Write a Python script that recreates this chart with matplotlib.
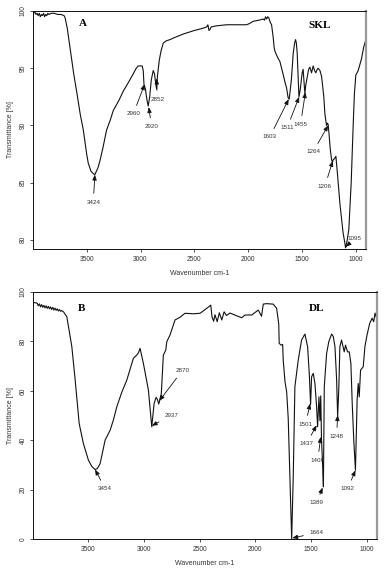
import matplotlib
matplotlib.use("Agg")
import matplotlib.pyplot as plt

plt.rcParams['font.family'] = ['Liberation Sans', 'DejaVu Sans']

# ---------------- Panel A : SKL ----------------
skl_wn = [3995, 3980, 3970, 3960, 3950, 3940, 3930, 3920, 3910, 3900, 3890, 3880, 3870, 3860,
          3850, 3830, 3800, 3770, 3740, 3710, 3700, 3680, 3650, 3620, 3590, 3560, 3531, 3500,
          3485, 3460, 3440, 3424, 3410, 3395, 3377, 3350, 3315, 3280, 3253, 3200, 3160, 3110,
          3068, 3040, 3021, 3000, 2985, 2975, 2968, 2955, 2940, 2929, 2915, 2900, 2882, 2870,
          2860, 2851, 2843, 2826, 2810, 2789, 2760, 2727, 2680, 2600, 2500, 2420, 2387, 2375,
          2365, 2355, 2345, 2300, 2200, 2140, 2016, 1990, 1955, 1900, 1862, 1850, 1840, 1830,
          1820, 1810, 1795, 1784, 1770, 1760, 1753, 1740, 1720, 1707, 1680, 1660, 1645, 1630,
          1620, 1600, 1583, 1570, 1561, 1554, 1546, 1538, 1530, 1520, 1512, 1500, 1491, 1483,
          1475, 1467, 1459, 1450, 1440, 1428, 1413, 1398, 1385, 1373, 1360, 1352, 1335, 1320,
          1299, 1289, 1274, 1266, 1259, 1250, 1240, 1227, 1218, 1212, 1200, 1187, 1170, 1150,
          1120, 1105, 1097, 1085, 1067, 1045, 1027, 1015, 1002, 980, 950, 930, 912]
skl_t = [99.8, 99.9, 99.7, 99.8, 99.6, 99.8, 99.5, 99.7, 99.6, 99.8, 99.5, 99.7, 99.6, 99.8,
         99.7, 99.8, 99.8, 99.7, 99.7, 99.6, 99.4, 98.5, 96.5, 94.5, 92.8, 91.0, 89.6, 87.5,
         86.7, 86.0, 85.8, 85.7, 86.0, 86.3, 86.9, 88.0, 89.6, 90.5, 91.3, 92.2, 93.0, 93.8,
         94.5, 95.0, 95.2, 95.2, 95.2, 94.8, 93.6, 93.2, 92.2, 91.7, 92.5, 94.0, 94.8, 94.5,
         93.7, 93.2, 94.3, 95.7, 96.5, 97.2, 97.4, 97.5, 97.7, 98.0, 98.3, 98.5, 98.6, 98.8,
         98.3, 98.4, 98.6, 98.7, 98.8, 98.8, 98.8, 98.9, 99.1, 99.2, 99.3, 99.2, 99.5, 99.3,
         99.5, 99.4, 99.0, 98.8, 97.8, 96.8, 96.5, 96.2, 95.8, 95.6, 94.6, 93.8, 93.3, 92.4,
         92.3, 94.0, 96.3, 97.2, 97.5, 97.2, 96.3, 94.5, 92.5, 93.0, 93.6, 94.6, 94.9, 93.8,
         92.8, 93.5, 93.9, 94.3, 94.9, 95.1, 94.6, 95.2, 94.8, 94.6, 94.9, 95.0, 94.8, 94.3,
         92.5, 91.0, 90.0, 90.2, 90.1, 89.2, 88.0, 87.0, 86.8, 87.0, 87.1, 87.3, 85.5, 83.2,
         80.6, 79.8, 79.3, 79.8, 80.9, 85.0, 89.9, 92.8, 94.4, 94.8, 95.8, 96.8, 97.4]

# ---------------- Panel B : DL ----------------
dl_wn = [3995, 3975, 3960, 3950, 3940, 3930, 3920, 3910, 3900, 3890, 3880, 3870, 3860, 3850,
         3840, 3830, 3820, 3810, 3800, 3790, 3780, 3770, 3760, 3750, 3740, 3724, 3694, 3649,
         3619, 3583, 3545, 3500, 3470, 3440, 3420, 3395, 3350, 3305, 3276, 3245, 3200, 3155,
         3096, 3066, 3050, 3036, 3006, 2961, 2931, 2910, 2892, 2880, 2868, 2845, 2827, 2805,
         2796, 2767, 2722, 2677, 2632, 2557, 2497, 2437, 2401, 2390, 2375, 2363, 2343, 2324,
         2302, 2281, 2260, 2228, 2175, 2123, 2093, 2033, 1974, 1959, 1945, 1929, 1900, 1840,
         1809, 1790, 1786, 1768, 1755, 1750, 1734, 1719, 1705, 1690, 1674, 1660, 1645, 1630,
         1615, 1585, 1555, 1531, 1516, 1504, 1495, 1480, 1465, 1450, 1441, 1429, 1420, 1413,
         1406, 1396, 1389, 1381, 1360, 1340, 1315, 1300, 1285, 1270, 1261, 1250, 1241, 1226,
         1213, 1202, 1190, 1172, 1157, 1142, 1130, 1116, 1101, 1086, 1076, 1067, 1055, 1031,
         1016, 997, 973, 951, 937, 925, 912]
dl_t = [95.8, 95.6, 95.5, 94.4, 95.2, 94.0, 94.9, 93.8, 94.6, 93.6, 94.4, 93.4, 94.2, 93.2,
        94.0, 92.9, 93.8, 92.7, 93.5, 92.6, 93.2, 92.3, 92.9, 92.2, 92.5, 92.0, 90.0, 77.9,
        64.4, 46.8, 38.7, 32.0, 29.5, 28.2, 28.6, 30.6, 40.1, 44.1, 48.2, 53.6, 59.5, 64.4,
        73.2, 74.5, 75.5, 77.2, 71.1, 60.3, 45.5, 54.9, 57.4, 56.5, 54.7, 59.0, 74.5, 76.5,
        79.9, 82.6, 88.7, 89.8, 91.4, 91.2, 91.4, 93.4, 94.7, 90.0, 88.2, 90.8, 88.0, 91.6,
        88.7, 92.0, 90.5, 91.5, 90.5, 89.6, 90.7, 90.7, 92.7, 91.4, 90.2, 95.1, 95.3, 95.1,
        93.4, 87.0, 79.2, 78.5, 78.8, 72.5, 63.7, 59.6, 48.9, 25.0, 0.2, 25.0, 61.7, 67.0,
        72.5, 80.6, 83.0, 77.9, 67.1, 54.5, 65.7, 67.1, 63.0, 53.6, 45.5, 57.6, 48.0, 58.0,
        40.8, 30.0, 21.2, 61.7, 75.2, 80.0, 83.0, 82.0, 77.9, 64.4, 49.5, 61.7, 77.9, 80.6,
        78.0, 75.8, 78.5, 75.8, 75.8, 71.1, 54.9, 40.0, 27.9, 56.3, 63.0, 57.6, 68.4, 69.8,
        77.9, 82.6, 87.3, 89.4, 88.0, 91.5, 89.5]

# annotations: (label, tip wn, tip T, text wn, text T)
skl_ann = [("3424", 3424, 85.7, 3438, 83.3),
           ("2960", 2962, 93.6, 3067, 91.0),
           ("2920", 2924, 91.6, 2897, 89.9),
           ("2852", 2851, 94.1, 2845, 92.3),
           ("1603", 1625, 92.3, 1800, 89.0),
           ("1511", 1528, 92.5, 1639, 89.8),
           ("1455", 1470, 92.9, 1515, 90.1),
           ("1264", 1259, 90.0, 1398, 87.7),
           ("1206", 1216, 86.9, 1289, 84.7),
           ("1095", 1095, 79.4, 1011, 80.1)]
dl_ann = [("3454", 3440, 28.2, 3350, 20.5),
          ("2937", 2931, 45.9, 2751, 50.2),
          ("2870", 2863, 56.0, 2653, 68.4),
          ("1501", 1508, 54.9, 1549, 46.6),
          ("1437", 1450, 46.1, 1540, 38.7),
          ("1408", 1413, 41.4, 1440, 32.0),
          ("1389", 1396, 20.9, 1451, 14.7),
          ("1248", 1261, 50.2, 1270, 41.7),
          ("1092", 1101, 27.9, 1170, 20.5),
          ("1664", 1669, 0.5, 1451, 2.6)]

xticks = [3500, 3000, 2500, 2000, 1500, 1000]
skl_yticks = [80, 85, 90, 95, 100]
dl_yticks = [0, 20, 40, 60, 80, 100]

fig = plt.figure(figsize=(3.92, 5.71), dpi=100)
ax1 = fig.add_axes([0.085, 0.5639, 0.848, 0.4168])
ax2 = fig.add_axes([0.085, 0.0555, 0.876, 0.4331])

tick_col = '#333333'


def style(ax, yticks, ylim):
    ax.set_xlim(3995, 910)
    ax.set_ylim(*ylim)
    ax.set_xticks(xticks)
    ax.set_yticks(yticks)
    ax.tick_params(axis='both', labelsize=4.8, length=2.5, width=0.6, colors=tick_col,
                   pad=2.5)
    ax.tick_params(axis='y', labelrotation=90)
    for lab in ax.get_yticklabels():
        lab.set_va('center')
    ax.spines['right'].set_color('#999999')
    ax.spines['right'].set_linewidth(1.6)
    for s in ('left', 'bottom', 'top'):
        ax.spines[s].set_linewidth(0.7)
        ax.spines[s].set_color('#111111')
    ax.set_xlabel('Wavenumber cm-1', fontsize=5, color=tick_col, labelpad=5)
    ax.set_ylabel('Transmittance [%]', fontsize=5, color=tick_col, labelpad=4)


def annotate(ax, items):
    for lab, tx, ty, lx, ly in items:
        ax.annotate(lab, xy=(tx, ty), xytext=(lx, ly), fontsize=4.5, color='#333333',
                    ha='center', va='center',
                    arrowprops=dict(arrowstyle='-|>,head_length=0.45,head_width=0.18',
                                    mutation_scale=7, lw=0.6, color='#111111',
                                    shrinkA=2.5, shrinkB=0))


ax1.plot(skl_wn, skl_t, color='#111111', lw=0.8)
style(ax1, skl_yticks, (79.2, 100))
annotate(ax1, skl_ann)
ax1.text(3531, 98.9, 'A', fontsize=8, fontweight='bold', family='Liberation Serif',
         ha='center', va='center')
ax1.text(1336, 98.7, 'SKL', fontsize=8, fontweight='bold', family='Liberation Serif',
         ha='center', va='center')

ax2.plot(dl_wn, dl_t, color='#111111', lw=0.8)
style(ax2, dl_yticks, (0, 100))
annotate(ax2, dl_ann)
ax2.text(3560, 93.4, 'B', fontsize=8, fontweight='bold', family='Liberation Serif',
         ha='center', va='center')
ax2.text(1450, 93.4, 'DL', fontsize=8, fontweight='bold', family='Liberation Serif',
         ha='center', va='center')

fig.savefig('out.png', dpi=100)
